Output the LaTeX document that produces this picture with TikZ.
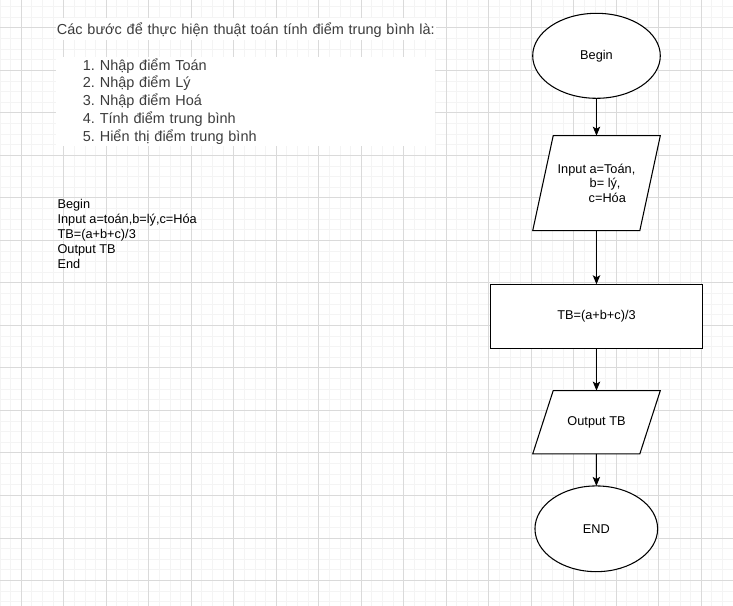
\documentclass[tikz,border=0pt]{standalone}
\usepackage{fontspec}
\setmainfont{Liberation Sans}
\usetikzlibrary{shapes.geometric,arrows.meta,calc}
\pgfdeclarelayer{background}
\pgfsetlayers{background,main}
\definecolor{headgray}{HTML}{3C3C3C}
\definecolor{minorgray}{HTML}{F4F4F4}
\definecolor{majorgray}{HTML}{DADADA}
\begin{document}
\frenchspacing
\begin{tikzpicture}[x=0.75pt,y=-0.75pt,
  minorline/.style={draw=minorgray,line width=0.75pt},
  majorline/.style={draw=majorgray,line width=0.75pt},
  shapeline/.style={draw=black,line width=0.8pt,fill=white},
  arr/.style={draw=black,line width=0.8pt,-{Stealth[length=6.8pt,width=5.6pt,inset=1.6pt]}},
  flowtxt/.style={font=\fontsize{9.56pt}{11.1pt}\selectfont},
  bigtxt/.style={font=\fontsize{10.85pt}{13.3pt}\selectfont,text=headgray},
  ellipsebox/.style={ellipse,shapeline,inner sep=0pt,outer sep=0pt,flowtxt},
  parabox/.style={inner sep=0pt,outer sep=0pt,flowtxt}
]
\useasboundingbox (0,0) rectangle (733,606);
\begin{pgfonlayer}{background}
\fill[white] (0,0) rectangle (733,606);
\foreach \i in {-2,...,67} {
  \pgfmathsetmacro\xx{21.3+10.625*\i}
  \draw[minorline] (\xx,0) -- (\xx,606);
}
\foreach \i in {-2,...,54} {
  \pgfmathsetmacro\yy{580.5-10.625*\i}
  \draw[minorline] (0,\yy) -- (733,\yy);
}
\foreach \i in {0,...,16} {
  \pgfmathsetmacro\xx{21.3+42.5*\i}
  \draw[majorline] (\xx,0) -- (\xx,606);
}
\foreach \i in {0,...,13} {
  \pgfmathsetmacro\yy{580.5-42.5*\i}
  \draw[majorline] (0,\yy) -- (733,\yy);
}
\end{pgfonlayer}

% left texts
\node[anchor=north west,fill=white,inner xsep=0.5pt,inner ysep=0pt,
  minimum height=16.5pt,text width=283.5pt,align=left,
  text height=9.3pt,text depth=1.5pt,bigtxt] (head) at (56,18)
  {\mbox{Các bước để thực hiện thuật toán tính điểm trung bình là:}};
\node[anchor=north west,fill=white,inner sep=0pt,
  minimum height=66.75pt,text width=284.25pt,align=left,bigtxt] (steps) at (56,56.5)
  {\hspace*{20pt}1. Nhập điểm Toán\\
   \hspace*{20pt}2. Nhập điểm Lý\\
   \hspace*{20pt}3. Nhập điểm Hoá\\
   \hspace*{20pt}4. Tính điểm trung bình\\
   \hspace*{20pt}5. Hiển thị điểm trung bình};
\node[anchor=north west,inner sep=0pt,align=left,flowtxt] (code) at (57.3,199.3)
  {Begin\\Input a=toán,b=lý,c=Hóa\\TB=(a+b+c)/3\\Output TB\\End};

% flowchart
\node[ellipsebox,minimum width=95.7pt,minimum height=63.75pt] (b) at (596.5,55.8) {Begin};
\node[parabox,minimum width=95.7pt,minimum height=71.25pt,align=left] (in) at (596.5,183.2)
  {Input a=Toán,\\\hspace*{24pt}b= lý,\\\hspace*{23.25pt}c=Hóa};
\node[shapeline,inner sep=0pt,outer sep=0pt,flowtxt,minimum width=159.3pt,minimum height=48pt] (tb) at (596.5,316.3) {TB=(a+b+c)/3};
\node[parabox,minimum width=95.7pt,minimum height=47.5pt] (out) at (596.5,422.3) {Output TB};
\node[ellipsebox,minimum width=92pt,minimum height=64.3pt] (e) at (596.3,528.8) {END};

\begin{pgfonlayer}{background}
\draw[shapeline] ($(in.north west)+(20.5,0)$) -- (in.north east) -- ($(in.south east)-(20.5,0)$) -- (in.south west) -- cycle;
\draw[shapeline] ($(out.north west)+(20.5,0)$) -- (out.north east) -- ($(out.south east)-(20.5,0)$) -- (out.south west) -- cycle;
\end{pgfonlayer}

\draw[arr] (b) -- (in);
\draw[arr] (in) -- (tb);
\draw[arr] (tb) -- (out);
\draw[arr] (out) -- (e);
\end{tikzpicture}
\end{document}
